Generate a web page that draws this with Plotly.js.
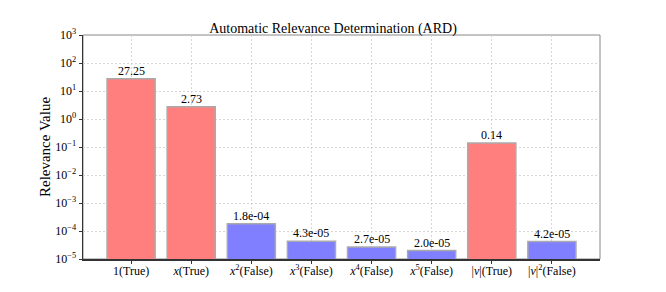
<!DOCTYPE html>
<html>
<head>
<meta charset="utf-8">
<script src="https://cdn.plot.ly/plotly-3.0.1.min.js"></script>
<style>html,body{margin:0;padding:0;background:#fff;}#chart{width:666px;height:292px;}</style>
</head>
<body>
<div id="chart"></div>
<script>
var categories = ['1(True)', '<i>x</i>(True)', '<i>x</i><sup>2</sup>(False)', '<i>x</i><sup>3</sup>(False)', '<i>x</i><sup>4</sup>(False)', '<i>x</i><sup>5</sup>(False)', '|<i>v</i>|(True)', '|<i>v</i>|<sup>2</sup>(False)'];
var values = [27.25, 2.73, 1.8e-4, 4.3e-5, 2.7e-5, 2.0e-5, 0.14, 4.2e-5];
var selected = [true, true, false, false, false, false, true, false];
var yTickVals = [1e-5, 1e-4, 1e-3, 1e-2, 1e-1, 1e0, 1e1, 1e2, 1e3];
var yTickText = ['10<sup>\u22125</sup>', '10<sup>\u22124</sup>', '10<sup>\u22123</sup>', '10<sup>\u22122</sup>', '10<sup>\u22121</sup>', '10<sup>0</sup>', '10<sup>1</sup>', '10<sup>2</sup>', '10<sup>3</sup>'];

function fmt(v) {
  if (v >= 0.1) return v.toFixed(2);
  var s = v.toExponential(1);
  var parts = s.split('e');
  var exp = parseInt(parts[1], 10);
  var sign = exp < 0 ? '-' : '+';
  var a = Math.abs(exp);
  return parts[0] + 'e' + sign + (a < 10 ? '0' + a : a);
}

var font = 'Liberation Serif';
var trace = {
  type: 'bar',
  x: categories,
  y: values,
  width: 0.8,
  marker: {
    color: selected.map(function (s) { return s ? 'rgb(255,127,127)' : 'rgb(127,127,255)'; }),
    line: {color: 'rgb(170,170,170)', width: 1.5}
  },
  hoverinfo: 'none'
};

var labels = categories.map(function (c, i) {
  return {
    x: c, y: Math.log10(values[i]), xref: 'x', yref: 'y',
    text: fmt(values[i]), showarrow: false,
    xanchor: 'center', yanchor: 'bottom', yshift: -1,
    font: {family: font, size: 12, color: '#000'}
  };
});

var layout = {
  width: 666, height: 292,
  margin: {l: 83, r: 66, t: 35, b: 33},
  paper_bgcolor: '#fff', plot_bgcolor: '#fff',
  showlegend: false,
  font: {family: font, size: 12, color: '#000'},
  title: {text: 'Automatic Relevance Determination (ARD)', font: {family: font, size: 14, color: '#000'}, x: 0.5, xanchor: 'center', y: 0.905, yanchor: 'middle', yref: 'container'},
  xaxis: {
    type: 'category',
    range: [-0.8, 7.8],
    showgrid: true, gridcolor: '#cccccc', gridwidth: 0.8, griddash: '2px,2px',
    showline: true, linecolor: '#333', linewidth: 1.5,
    ticks: 'outside', ticklen: 3, tickcolor: '#333',
    ticklabelstandoff: -3,
    tickfont: {family: font, size: 12, color: '#000'},
    zeroline: false
  },
  yaxis: {
    type: 'log',
    range: [-5, 3],
    tickvals: yTickVals, ticktext: yTickText,
    showgrid: true, gridcolor: '#cccccc', gridwidth: 0.8, griddash: '2px,2px',
    showline: true, linecolor: '#333', linewidth: 1.5,
    ticks: 'outside', ticklen: 3, tickcolor: '#333',
    tickfont: {family: font, size: 12, color: '#000'},
    title: {text: 'Relevance Value', font: {family: font, size: 15, color: '#000'}, standoff: 1},
    zeroline: false
  },
  annotations: labels,
  shapes: [{type: 'rect', xref: 'paper', yref: 'paper', x0: 0, x1: 1, y0: 0, y1: 1, line: {color: '#888', width: 1}, layer: 'below'}]
};

Plotly.newPlot('chart', [trace], layout, {staticPlot: true, displayModeBar: false});
</script>
</body>
</html>
